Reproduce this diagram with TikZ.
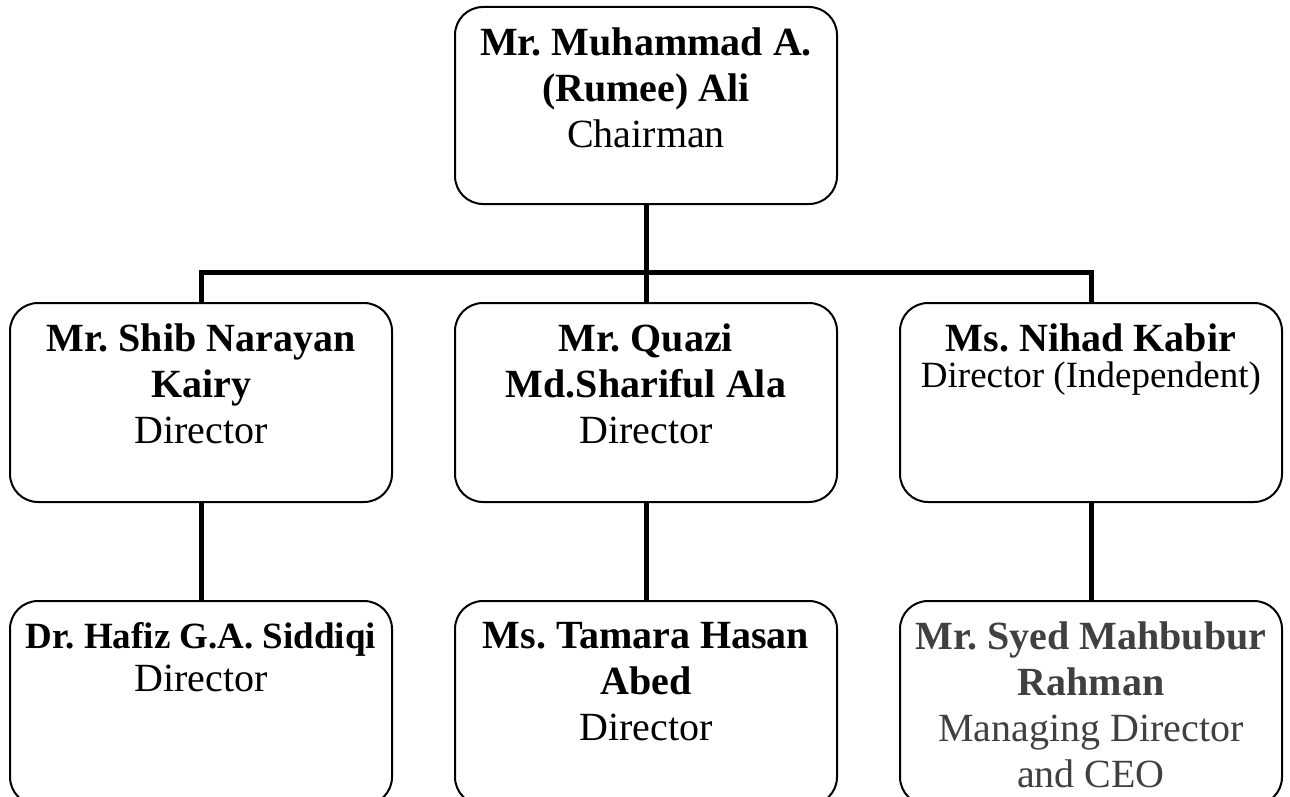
\documentclass[tikz,border=0pt]{standalone}
\usepackage{fontspec}
\setmainfont{Liberation Serif}
\usepackage{xcolor}
\definecolor{mgray}{RGB}{64,64,64}
\frenchspacing
\newcommand{\card}[2]{\parbox[c][#1][t]{191pt}{\centering\vspace*{10.5pt}#2}}

\begin{document}
\begin{tikzpicture}[x=0.5pt, y=-0.5pt,
    member/.style={rectangle, draw, line width=1pt, rounded corners=14pt, inner sep=0pt,
                   font=\fontsize{20pt}{23pt}\selectfont},
    link/.style={line width=2.5pt}]
    \useasboundingbox (0,0) rectangle (1290,797);
    \clip (0,0) rectangle (1290,797);

    \node[member] (ali)     at (646,105.5) {\card{98.5pt}{\textbf{Mr. Muhammad A.}\\ \textbf{(Rumee) Ali}\\ Chairman}};
    \node[member] (shib)    at (201,402.5) {\card{99.5pt}{\textbf{Mr. Shib Narayan}\\ \textbf{Kairy}\\ Director}};
    \node[member] (quazi)   at (646,402.5) {\card{99.5pt}{\textbf{Mr. Quazi}\\ \textbf{Md.Shariful Ala}\\ Director}};
    \node[member] (nihad)   at (1091,402.5) {\card{99.5pt}{\textbf{Ms. Nihad Kabir}\\[-5pt] {\fontsize{18.5pt}{23pt}\selectfont Director (Independent)}}};
    \node[member] (hafiz)   at (201,703) {\card{102pt}{{\fontsize{18.5pt}{23pt}\selectfont\textbf{Dr. Hafiz G.A. Siddiqi}}\\[-1.5pt] Director}};
    \node[member] (tamara)  at (646,703) {\card{102pt}{\textbf{Ms. Tamara Hasan}\\ \textbf{Abed}\\ Director}};
    \node[member] (mahbub)  at (1091,703) {\card{102pt}{\color{mgray}\textbf{Mr. Syed Mahbubur}\\ \textbf{Rahman}\\ Managing Director\\ and CEO}};
    \coordinate (bar) at (646,272);

    \draw[link] (shib.north) |- (bar) -| (nihad.north);
    \draw[link] (ali.south) -- (quazi.north);
    \draw[link] (shib.south) -- (hafiz.north);
    \draw[link] (quazi.south) -- (tamara.north);
    \draw[link] (nihad.south) -- (mahbub.north);
\end{tikzpicture}
\end{document}
